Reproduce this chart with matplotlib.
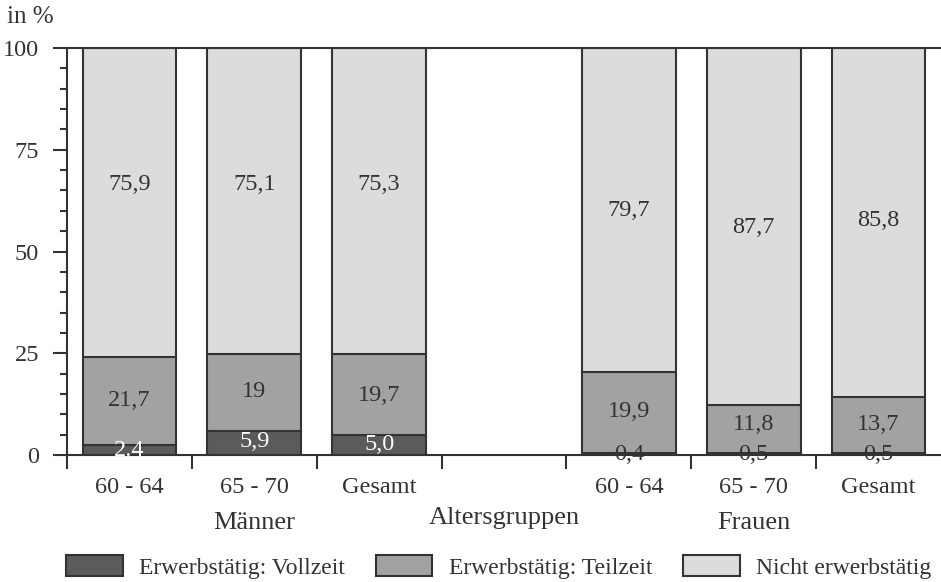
import matplotlib.pyplot as plt
from matplotlib.patches import Patch
import numpy as np

plt.rcParams['font.family'] = ['Liberation Serif', 'DejaVu Serif']

# Daten (Position 3 ist die Lücke zwischen Männern und Frauen)
age_labels = ['60 - 64', '65 - 70', 'Gesamt', '', '60 - 64', '65 - 70', 'Gesamt']
vollzeit = [2.4, 5.9, 5.0, 0, 0.4, 0.5, 0.5]
teilzeit = [21.7, 19, 19.7, 0, 19.9, 11.8, 13.7]
nicht = [75.9, 75.1, 75.3, 0, 79.7, 87.7, 85.8]
has_bar = [True, True, True, False, True, True, True]

voll_txt = ['2.4', '5,9', '5,0', '', '0,4', '0,5', '0,5']
teil_txt = ['21,7', '19', '19,7', '', '19,9', '11,8', '13,7']
nicht_txt = ['75,9', '75,1', '75,3', '', '79,7', '87,7', '85,8']

# Textpositionen (in %)
voll_pos = [1.2, 3.2, 2.7, 0, 0.0, 0.0, 0.0]
teil_pos = [13.5, 15.5, 14.5, 0, 10.8, 7.4, 7.6]
nicht_pos = [66.5, 66.5, 66.5, 0, 60, 56, 57.5]

c_voll = '#5b5b5d'
c_teil = '#a2a2a4'
c_nicht = '#dcdcde'
edge = '#333333'
txt = '#333333'
fs = 17.5

fig = plt.figure(figsize=(9.41, 5.82), dpi=100)
ax = fig.add_axes([67/941, 1-455/582, 1-67/941, (455-48)/582])

x = np.arange(len(age_labels))
idx = [i for i in x if has_bar[i]]
v = np.array(vollzeit)
t = np.array(teilzeit)
n = np.array(nicht)
w = 0.75
ax.bar(idx, v[idx], w, color=c_voll, edgecolor=edge, linewidth=1.5)
ax.bar(idx, t[idx], w, bottom=v[idx], color=c_teil, edgecolor=edge, linewidth=1.5)
ax.bar(idx, n[idx], w, bottom=(v + t)[idx], color=c_nicht, edgecolor=edge, linewidth=1.5)

for i in idx:
    vc = 'white' if i < 3 else txt
    ax.text(i, voll_pos[i], voll_txt[i], ha='center', va='center', fontsize=fs, color=vc)
    ax.text(i, teil_pos[i], teil_txt[i], ha='center', va='center', fontsize=fs, color=txt)
    ax.text(i, nicht_pos[i], nicht_txt[i], ha='center', va='center', fontsize=fs, color=txt)

ax.set_xlim(-0.5, 6.5)
ax.set_ylim(0, 100)
ax.set_yticks([0, 25, 50, 75, 100])
ax.set_yticks(np.arange(0, 101, 5), minor=True)
ax.set_xticks(x)
ax.set_xticklabels(age_labels)
ax.set_xticks(np.arange(-0.5, 6, 1), minor=True)
ax.tick_params(axis='y', which='major', length=10, width=1.5, color=edge,
               labelsize=fs, labelcolor=txt, pad=10)
ax.tick_params(axis='y', which='minor', length=5, width=1.5, color=edge)
ax.tick_params(axis='x', which='major', length=0, labelsize=fs, labelcolor=txt, pad=16)
ax.tick_params(axis='x', which='minor', length=10, width=1.5, color=edge)

for s in ['left', 'bottom', 'top']:
    ax.spines[s].set_color(edge)
    ax.spines[s].set_linewidth(1.5)
ax.spines['right'].set_visible(False)

# Gruppenbeschriftungen
ax.text(1, -16.8, 'Männer', ha='center', va='center', fontsize=19, color=txt)
ax.text(3, -15.5, 'Altersgruppen', ha='center', va='center', fontsize=19, color=txt)
ax.text(5, -16.8, 'Frauen', ha='center', va='center', fontsize=19, color=txt)

fig.text(7/941, 1-17/582, 'in %', ha='left', va='center', fontsize=18, color=txt)

handles = [Patch(facecolor=c_voll, edgecolor=edge, linewidth=1.5, label='Erwerbstätig: Vollzeit'),
           Patch(facecolor=c_teil, edgecolor=edge, linewidth=1.5, label='Erwerbstätig: Teilzeit'),
           Patch(facecolor=c_nicht, edgecolor=edge, linewidth=1.5, label='Nicht erwerbstätig')]
leg = fig.legend(handles=handles, loc='center', bbox_to_anchor=(0.530, 1-567/582), ncol=3,
                 frameon=False, fontsize=17, handlelength=2.4, handleheight=1.0,
                 handletextpad=0.7, columnspacing=1.3, borderaxespad=0, borderpad=0)
for tx in leg.get_texts():
    tx.set_color(txt)

fig.savefig('out.png', dpi=100)
